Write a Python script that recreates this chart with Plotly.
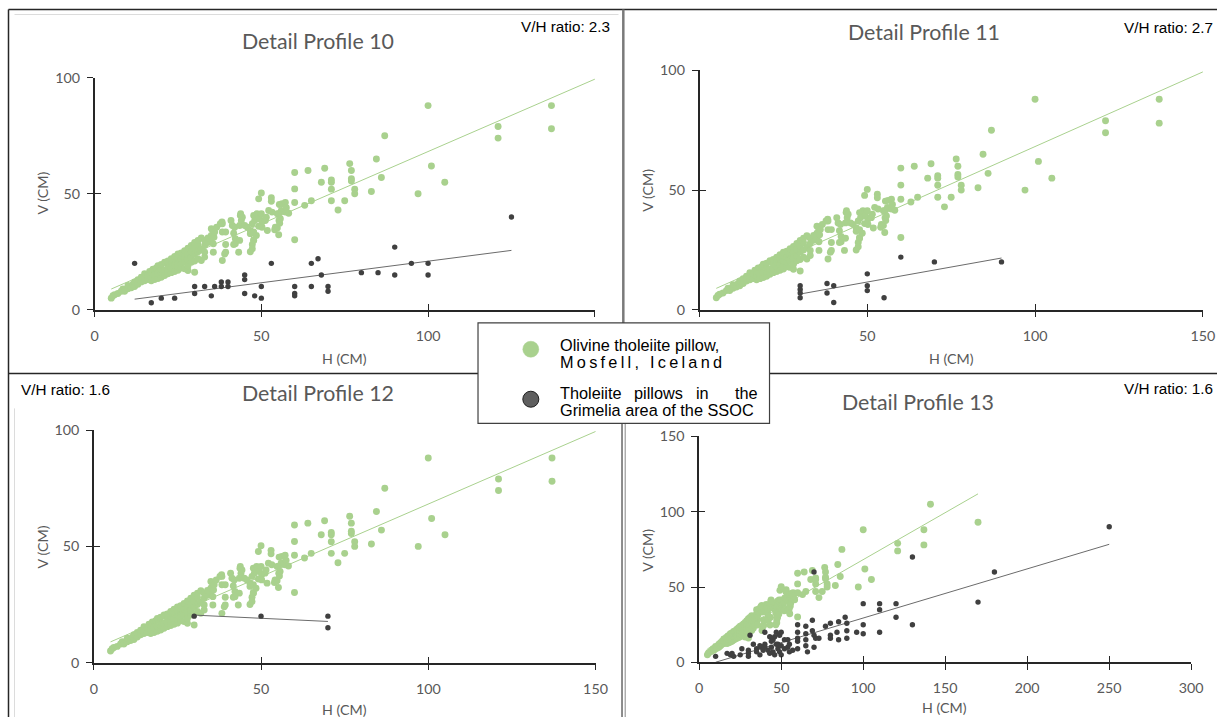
import numpy as np
import plotly.graph_objects as go

# The window shows the page with an offset and a slight shrink; layout positions below are
# given in window pixels and converted to figure pixels with this affine map.
OX, SX = 3.5, 0.987
OY, SY = 8.5, 0.977
FW, FH = 1233, 733
FS = 1.0 / 0.982  # font / marker compensation for the shrink

# Olivine tholeiite pillows, Mosfell, Iceland (same reference set on every profile)
mosfell_h = [5, 5.5, 6, 7, 8, 8.5, 9, 10, 10, 11, 11.5, 12, 12, 13, 13, 14, 14, 15, 15, 15,
             16, 16, 16.5, 17, 17, 17, 17.5, 18, 18, 18, 18.5, 19, 19, 19, 20, 20, 20, 20,
             21, 21, 21, 22, 22, 22, 22, 23, 23, 23, 23, 24, 24, 24, 24, 25, 25, 25, 25, 25,
             26, 26, 26, 26, 27, 27, 27, 27, 28, 28, 28, 28, 28, 29, 29, 29, 29, 30, 30, 30,
             30, 30, 31, 31, 31, 31, 32, 32, 32, 33, 33, 33, 33, 34, 34, 35, 35, 35, 35.6, 35.6,
             35.5, 35.8, 36, 36.6, 37.7, 38.2, 38.3, 38.3, 38.3, 39, 39.3, 39.3, 39.3, 40.9, 41.3,
             41.7, 41.7, 42, 42.2, 42.2, 43.2, 43.5, 43.5, 43.7, 43.8, 44, 44.3, 45, 45.8, 46.7,
             46.7, 46.7, 47.3, 47.3, 47.3, 47.7, 47.7, 47.7, 47.7, 48, 48.5, 48.7, 49.2, 49.2,
             49.2, 49.5, 50, 50, 50.2, 50.2, 51.2, 51.5, 51.8, 52.2, 53, 53, 53.2, 54, 54.2,
             54.8, 54.8, 55.2, 55.2, 55.3, 55.4, 55.5, 55.7, 56, 56.2, 56.7, 57.2, 57.2, 57.5,
             58.2, 60, 60, 60, 60, 63, 64, 65, 68, 69, 71, 71, 71, 71, 73, 75, 76.5, 77, 77,
             77, 78, 78, 83, 84.5, 86, 87, 97, 100, 101, 105, 121, 121, 137, 137, 141, 170]
mosfell_v = [5, 6, 6.5, 7, 8, 9, 8, 9, 10.5, 9.5, 11, 10, 12, 11, 13, 12, 14, 12.5, 14, 15.5,
             13, 15, 16.5, 12.5, 14, 16, 17.5, 13, 15, 17, 18, 13.5, 15.5, 19, 14, 16, 17.5, 19.5,
             14.8, 17, 20.5, 15.5, 17, 19, 21, 16, 18, 20, 22, 16.5, 19, 21, 23, 17, 18.5, 20.5, 22.5, 24,
             18, 20, 22, 24.5, 17.7, 20.5, 23, 25.5, 16.9, 19, 21.5, 24, 26.5, 20.5, 22.5, 25, 27.7, 16.2, 21, 24,
             26.5, 29, 22, 25, 28, 29.9, 21.2, 26, 30.9, 22.7, 24.8, 27.7, 29.9, 29, 31, 30, 32, 34.9, 28.4, 24.8,
             34.2, 31.3, 33.5, 35.6, 37.1, 37.8, 33.5, 37.1, 21.2, 24, 24.8, 28.1, 33.5, 38.5, 36.3,
             28.1, 33, 35.6, 30.6, 28.4, 24.8, 36.3, 29.9, 40.6, 41.4, 38.5, 39.9, 36.3, 35.6, 34.2,
             32.8, 25, 37.1, 28.1, 26.3, 40.6, 33.5, 29.8, 30.2, 38.5, 32, 41.4, 47.8, 36,
             40.6, 39.2, 50.3, 41.4, 37.8, 35.6, 38.5, 39.9, 34.2, 42.8, 48.3, 46.8, 42.1, 34.5, 35.6,
             35.2, 41.4, 41.4, 32.3, 38.5, 45.4, 37.3, 39.2, 42.8, 45.7, 42.5, 46.2, 42.1, 44,
             41.6, 59.2, 52.1, 46.2, 30.2, 45, 60, 47, 55, 61, 56, 55, 52, 47, 43, 47, 63, 60, 56.5,
             55.5, 52, 50, 51, 65, 57, 75, 50, 88, 62, 55, 79, 74, 88, 78, 105, 93]

# Tholeiite pillows in the Grimelia area of the SSOC, one set per profile
p10_h = [12, 17, 20, 24, 30, 30, 33, 35, 36, 38, 38, 40, 40, 45, 45, 45, 48, 50, 50, 53,
         60, 60, 60, 65, 65, 67, 68, 70, 70, 80, 85, 90, 90, 95, 100, 100, 125]
p10_v = [20, 3, 5, 5, 10, 7, 10, 6, 10, 12, 10, 12, 10, 15, 13, 7, 6, 10, 5, 20,
         10, 7, 6, 20, 10, 22, 15, 10, 8, 16, 16, 15, 27, 20, 20, 15, 40]

p11_h = [30, 30, 30, 30, 38, 38, 40, 40, 50, 50, 50, 55, 60, 70, 90]
p11_v = [10, 8.5, 7, 5, 11, 7, 10, 3, 15, 10, 8, 5, 22, 20, 20]

p12_h = [30, 50, 70, 70]
p12_v = [20, 20, 20, 15]

p13_h = [10, 17, 19, 21, 20, 25, 26, 30, 30, 30, 31, 33, 35, 35, 37, 37, 38, 39, 40, 40,
         40, 42, 43, 43, 44, 44, 45, 45, 46, 46, 47, 47, 48, 48, 49, 49, 50, 50, 50, 52,
         52, 54, 54, 55, 55, 57, 60, 60, 60, 60, 60, 65, 65, 65, 65, 66, 69, 69, 70, 70,
         70, 71, 73, 77, 80, 80, 80, 85, 84, 85, 89, 90, 90, 90, 96, 100, 100, 100, 110, 110,
         110, 120, 120, 130, 130, 170, 180, 250]
p13_v = [4, 6, 5, 4, 6, 5, 9, 6, 4, 8, 18, 12, 9, 7, 11, 5, 10, 8, 12, 20,
         10, 8, 6, 17, 10, 14, 15, 7, 17, 5, 12, 20, 9, 12, 7, 18, 11, 20, 5, 15,
         9, 10, 15, 12, 7, 8, 25, 20, 16, 14, 9, 24, 19, 15, 11, 7, 28, 21, 18, 10,
         60, 16, 16, 24, 26, 18, 16, 27, 20, 15, 30, 26, 21, 16, 20, 39, 25, 19, 39, 35,
         20, 39, 30, 70, 25, 40, 60, 90]

profile_titles = ["Detail Profile 10", "Detail Profile 11", "Detail Profile 12", "Detail Profile 13"]
vh_ratios = ["2.3", "2.7", "1.6", "1.6"]
ssoc_sets = [(p10_h, p10_v), (p11_h, p11_v), (p12_h, p12_v), (p13_h, p13_v)]

ticks_150 = [0, 50, 100, 150]
ticks_100 = [0, 50, 100]
ticks_300 = [0, 50, 100, 150, 200, 250, 300]

legend_mosfell = ["Olivine tholeiite pillow,", "Mosfell, Iceland"]
legend_ssoc = ["Tholeiite pillows in the", "Grimelia area of the SSOC"]

GREEN = "#A9D18E"
DARK = "#404040"
GREY_TXT = "#595959"
AXIS = "#262626"


def fx(px):
    return ((px - OX) / SX) / FW


def fy(py):
    return 1 - ((py - OY) / SY) / FH


def trend(h, v):
    slope, icpt = np.polyfit(h, v, 1)
    xs = np.array([min(h), max(h)], dtype=float)
    return xs, slope * xs + icpt


def labels(vals, hidden=()):
    # tick labels, blank where the legend box sits over the axis
    return ["" if v in hidden else str(v) for v in vals]


# window-pixel boxes of each plot area: left, right, bottom (value 0), top (max value)
panels = [
    dict(l=94.1, r=594.3, b=309.3, t=77.3, xr=150, yr=100, xt=ticks_150, yt=ticks_100, xhide=(150,),
         title=(317.5, 41), vh=(611, 26, "right"), xlab=(344, 358), ylab=(41.5, 193)),
    dict(l=699.0, r=1202.3, b=309.3, t=70.0, xr=150, yr=100, xt=ticks_150, yt=ticks_100, xhide=(0,),
         title=(923.6, 32), vh=(1214, 27, "right"), xlab=(950.7, 358), ylab=(646.8, 190)),
    dict(l=93.3, r=595.0, b=662.3, t=429.7, xr=150, yr=100, xt=ticks_150, yt=ticks_100, xhide=(),
         title=(317.5, 393), vh=(18, 389, "left"), xlab=(344, 709), ylab=(41.5, 547)),
    dict(l=698.7, r=1190.7, b=662.0, t=436.0, xr=300, yr=150, xt=ticks_300, yt=ticks_150, xhide=(),
         title=(917.8, 401.5), vh=(1214, 388, "right"), xlab=(943.7, 707.5), ylab=(646.8, 550)),
]

fig = go.Figure()
layout = dict(
    width=FW, height=FH, autosize=False, margin=dict(l=0, r=0, t=0, b=0, pad=0),
    paper_bgcolor="white", plot_bgcolor="rgba(0,0,0,0)",
    showlegend=False, shapes=[], annotations=[],
)

tick_font = dict(family="Lato", size=14 * FS, color=GREY_TXT)
mos_x, mos_y = trend(mosfell_h, mosfell_v)

for i, p in enumerate(panels):
    k = i + 1
    xa, ya = ("x" if k == 1 else f"x{k}"), ("y" if k == 1 else f"y{k}")
    ok = k + 4
    xdom = [fx(p["l"]), fx(p["r"])]
    ydom = [fy(p["b"]), fy(p["t"])]
    base = dict(showline=True, linecolor=AXIS, linewidth=1.5, ticks="outside", ticklen=6,
                tickwidth=1.3, tickcolor=AXIS, showgrid=False, zeroline=False,
                tickfont=tick_font, tickmode="array", fixedrange=True)
    layout[f"xaxis{k}"] = dict(base, domain=xdom, anchor=ya, range=[0, p["xr"]],
                               tickvals=p["xt"], ticktext=labels(p["xt"], p["xhide"]),
                               ticklabelstandoff=6)
    layout[f"yaxis{k}"] = dict(base, domain=ydom, anchor=xa, range=[0, p["yr"]],
                               tickvals=p["yt"], ticktext=labels(p["yt"]), ticklabelstandoff=4)
    # second set of axes drawing the inner half of the cross tick marks
    over = dict(showline=False, ticks="inside", ticklen=6, tickwidth=1.3, tickcolor=AXIS,
                showgrid=False, zeroline=False, showticklabels=False, tickmode="array",
                fixedrange=True)
    layout[f"xaxis{ok}"] = dict(over, overlaying=xa, anchor=f"y{ok}", range=[0, p["xr"]],
                                tickvals=p["xt"])
    layout[f"yaxis{ok}"] = dict(over, overlaying=ya, anchor=f"x{ok}", range=[0, p["yr"]],
                                tickvals=p["yt"])
    fig.add_trace(go.Scatter(x=[None], y=[None], xaxis=f"x{ok}", yaxis=f"y{ok}",
                             mode="markers", hoverinfo="skip"))

    # Mosfell points and trend
    fig.add_trace(go.Scatter(x=mosfell_h, y=mosfell_v, xaxis=xa, yaxis=ya, mode="markers",
                             marker=dict(size=6.8 * FS, color=GREEN, line=dict(width=0))))
    fig.add_trace(go.Scatter(x=mos_x, y=mos_y, xaxis=xa, yaxis=ya, mode="lines",
                             line=dict(color=GREEN, width=1)))
    # Grimelia (SSOC) points and trend
    sh, sv = ssoc_sets[i]
    tx, ty = trend(sh, sv)
    fig.add_trace(go.Scatter(x=tx, y=ty, xaxis=xa, yaxis=ya, mode="lines",
                             line=dict(color="#6b6b6b", width=1)))
    fig.add_trace(go.Scatter(x=sh, y=sv, xaxis=xa, yaxis=ya, mode="markers",
                             marker=dict(size=5.3 * FS, color=DARK, line=dict(width=0))))

    ann = layout["annotations"]
    ann.append(dict(text=profile_titles[i], x=fx(p["title"][0]), y=fy(p["title"][1]),
                    xref="paper", yref="paper", showarrow=False, xanchor="center", yanchor="middle",
                    font=dict(family="Lato", size=21 * FS, color=GREY_TXT)))
    vx, vy, va = p["vh"]
    ann.append(dict(text=f"V/H ratio: {vh_ratios[i]}", x=fx(vx), y=fy(vy), xref="paper", yref="paper",
                    showarrow=False, xanchor=va, yanchor="middle",
                    font=dict(family="Liberation Sans", size=15 * FS, color="black")))
    ann.append(dict(text="H (CM)", x=fx(p["xlab"][0]), y=fy(p["xlab"][1]), xref="paper", yref="paper",
                    showarrow=False, xanchor="center", yanchor="middle",
                    font=dict(family="Lato", size=14 * FS, color=GREY_TXT)))
    ann.append(dict(text="V (CM)", x=fx(p["ylab"][0]), y=fy(p["ylab"][1]), xref="paper", yref="paper",
                    showarrow=False, xanchor="center", yanchor="middle", textangle=-90,
                    font=dict(family="Lato", size=14 * FS, color=GREY_TXT)))


def hline(y, x0, x1, color, width):
    return dict(type="line", xref="paper", yref="paper", x0=fx(x0), x1=fx(x1), y0=fy(y), y1=fy(y),
                line=dict(color=color, width=width), layer="above")


def vline(x, y0, y1, color, width):
    return dict(type="line", xref="paper", yref="paper", x0=fx(x), x1=fx(x), y0=fy(y0), y1=fy(y1),
                line=dict(color=color, width=width), layer="above")


shapes = layout["shapes"]
# faint chart-area frames
shapes.append(hline(14, 14, 618, "#dcdcdc", 1))
shapes.append(vline(14, 408, 720, "#dcdcdc", 1))
# panel frame lines
shapes.append(hline(9, 8, 1220, AXIS, 1.5))
shapes.append(vline(8, 9, 720, AXIS, 1.5))
shapes.append(hline(373, 8, 1220, AXIS, 1.5))
shapes.append(vline(622.8, 9, 373, "#7a7a7a", 2.5))
shapes.append(vline(621.5, 373, 720, "#404040", 1.2))
shapes.append(vline(624.7, 373, 720, "#9a9a9a", 1.2))

# legend box
shapes.append(dict(type="rect", xref="paper", yref="paper", x0=fx(477.5), x1=fx(769), y0=fy(423),
                   y1=fy(322.5), fillcolor="white", line=dict(color="#404040", width=1.2), layer="above"))
shapes.append(dict(type="circle", xref="paper", yref="paper", x0=fx(522.3), x1=fx(538.3),
                   y0=fy(356.8), y1=fy(340.8), fillcolor=GREEN, line=dict(color=GREEN, width=0.5),
                   layer="above"))
shapes.append(dict(type="circle", xref="paper", yref="paper", x0=fx(522.3), x1=fx(538.3),
                   y0=fy(406.8), y1=fy(390.8), fillcolor="#5f5f5f", line=dict(color="#1f1f1f", width=1),
                   layer="above"))

leg_font = dict(family="Liberation Sans", size=16 * FS, color="black")


def leg_text(txt, x, y, anchor="left"):
    layout["annotations"].append(dict(text=txt, x=fx(x), y=fy(y), xref="paper", yref="paper",
                                      showarrow=False, xanchor=anchor, yanchor="middle",
                                      font=leg_font))


leg_text(legend_mosfell[0], 557, 344.5)
leg_text("\u2009".join(legend_mosfell[1]), 557, 362)
words = legend_ssoc[0].split(" ")
leg_text(words[0], 557, 392.5)
leg_text(words[1], 631.7, 392.5)
leg_text(words[2], 693.3, 392.5)
leg_text(words[3], 759, 392.5, "right")
leg_text(legend_ssoc[1], 557, 410)

fig.update_layout(**layout)
fig.write_html("out.html", config={"responsive": False})
